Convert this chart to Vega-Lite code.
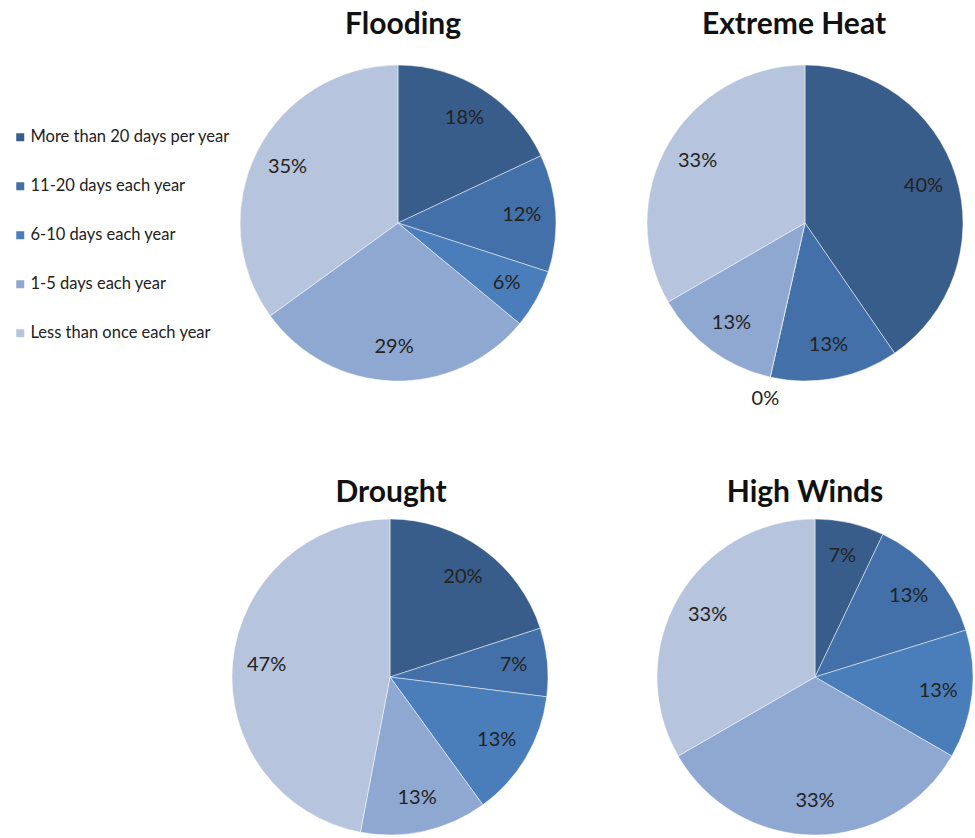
{
  "$schema": "https://vega.github.io/schema/vega-lite/v6.json",
  "padding": {"left": 12, "top": 10, "right": 0, "bottom": 0},
  "background": "white",
  "config": {
    "view": {"stroke": null},
    "font": "Lato",
    "title": {"font": "Lato", "fontSize": 30, "fontWeight": "bold", "color": "#111111", "anchor": "middle", "offset": 20},
    "legend": {
      "orient": "none",
      "legendX": -218,
      "legendY": 66,
      "title": null,
      "symbolType": "square",
      "symbolSize": 64,
      "symbolStrokeWidth": 0,
      "labelFont": "Lato",
      "labelFontSize": 16.5,
      "labelColor": "#222222",
      "labelOffset": 2,
      "rowPadding": 32,
      "labelLimit": 260
    }
  },
  "data": {
    "values": [
      {"hazard": "Flooding", "category": "More than 20 days per year", "rank": 1, "pct": 18},
      {"hazard": "Flooding", "category": "11-20 days each year", "rank": 2, "pct": 12},
      {"hazard": "Flooding", "category": "6-10 days each year", "rank": 3, "pct": 6},
      {"hazard": "Flooding", "category": "1-5 days each year", "rank": 4, "pct": 29},
      {"hazard": "Flooding", "category": "Less than once each year", "rank": 5, "pct": 35},
      {"hazard": "Extreme Heat", "category": "More than 20 days per year", "rank": 1, "pct": 40},
      {"hazard": "Extreme Heat", "category": "11-20 days each year", "rank": 2, "pct": 13},
      {"hazard": "Extreme Heat", "category": "6-10 days each year", "rank": 3, "pct": 0},
      {"hazard": "Extreme Heat", "category": "1-5 days each year", "rank": 4, "pct": 13},
      {"hazard": "Extreme Heat", "category": "Less than once each year", "rank": 5, "pct": 33},
      {"hazard": "Drought", "category": "More than 20 days per year", "rank": 1, "pct": 20},
      {"hazard": "Drought", "category": "11-20 days each year", "rank": 2, "pct": 7},
      {"hazard": "Drought", "category": "6-10 days each year", "rank": 3, "pct": 13},
      {"hazard": "Drought", "category": "1-5 days each year", "rank": 4, "pct": 13},
      {"hazard": "Drought", "category": "Less than once each year", "rank": 5, "pct": 47},
      {"hazard": "High Winds", "category": "More than 20 days per year", "rank": 1, "pct": 7},
      {"hazard": "High Winds", "category": "11-20 days each year", "rank": 2, "pct": 13},
      {"hazard": "High Winds", "category": "6-10 days each year", "rank": 3, "pct": 13},
      {"hazard": "High Winds", "category": "1-5 days each year", "rank": 4, "pct": 33},
      {"hazard": "High Winds", "category": "Less than once each year", "rank": 5, "pct": 33}
    ]
  },
  "transform": [
    {"calculate": "datum.pct + '%'", "as": "label"}
  ],
  "spacing": 68,
  "vconcat": [
    {
      "bounds": "flush",
      "spacing": 79,
      "hconcat": [
        {
          "title": {"text": "Flooding", "dx": 5, "offset": 23},
          "width": 336,
          "height": 320,
          "transform": [{"filter": "datum.hazard === 'Flooding'"}],
          "layer": [
            {
              "mark": {"type": "arc", "outerRadius": 158, "stroke": "#ffffff", "strokeWidth": 0.8, "strokeOpacity": 0.6},
              "encoding": {
                "theta": {"field": "pct", "type": "quantitative", "stack": true},
                "order": {"field": "rank", "type": "quantitative"},
                "color": {
                  "field": "category", "type": "nominal",
                  "scale": {
                    "domain": ["More than 20 days per year", "11-20 days each year", "6-10 days each year", "1-5 days each year", "Less than once each year"],
                    "range": ["#385d8a", "#4370a8", "#4a7ebb", "#8fa8d2", "#b6c4de"]
                  }
                }
              }
            },
            {
              "mark": {"type": "text", "radius": 124, "fontSize": 20, "font": "Lato", "color": "#222222"},
              "encoding": {
                "theta": {"field": "pct", "type": "quantitative", "stack": true},
                "order": {"field": "rank", "type": "quantitative"},
                "text": {"field": "label", "type": "nominal"}
              }
            }
          ]
        },
        {
          "title": {"text": "Extreme Heat", "dx": -11, "offset": 23},
          "width": 320,
          "height": 320,
          "transform": [{"filter": "datum.hazard === 'Extreme Heat'"}],
          "layer": [
            {
              "mark": {"type": "arc", "outerRadius": 158, "stroke": "#ffffff", "strokeWidth": 0.8, "strokeOpacity": 0.6},
              "encoding": {
                "theta": {"field": "pct", "type": "quantitative", "stack": true},
                "order": {"field": "rank", "type": "quantitative"},
                "color": {"field": "category", "type": "nominal"}
              }
            },
            {
              "mark": {"type": "text", "radius": 124, "fontSize": 20, "font": "Lato", "color": "#222222"},
              "encoding": {
                "theta": {"field": "pct", "type": "quantitative", "stack": true},
                "order": {"field": "rank", "type": "quantitative"},
                "text": {"condition": {"test": "datum.pct > 0", "field": "label"}, "value": ""}
              }
            },
            {
              "mark": {"type": "text", "radius": 180, "fontSize": 20, "font": "Lato", "color": "#222222"},
              "encoding": {
                "theta": {"field": "pct", "type": "quantitative", "stack": true},
                "order": {"field": "rank", "type": "quantitative"},
                "text": {"condition": {"test": "datum.pct == 0", "field": "label"}, "value": ""}
              }
            }
          ]
        }
      ]
    },
    {
      "bounds": "flush",
      "spacing": 105,
      "hconcat": [
        {
          "title": {"text": "Drought", "dx": 1, "offset": 9},
          "width": 320,
          "height": 320,
          "transform": [{"filter": "datum.hazard === 'Drought'"}],
          "layer": [
            {
              "mark": {"type": "arc", "outerRadius": 158, "stroke": "#ffffff", "strokeWidth": 0.8, "strokeOpacity": 0.6},
              "encoding": {
                "theta": {"field": "pct", "type": "quantitative", "stack": true},
                "order": {"field": "rank", "type": "quantitative"},
                "color": {"field": "category", "type": "nominal"}
              }
            },
            {
              "mark": {"type": "text", "radius": 124, "fontSize": 20, "font": "Lato", "color": "#222222"},
              "encoding": {
                "theta": {"field": "pct", "type": "quantitative", "stack": true},
                "order": {"field": "rank", "type": "quantitative"},
                "text": {"field": "label", "type": "nominal"}
              }
            }
          ]
        },
        {
          "title": {"text": "High Winds", "dx": -10, "offset": 9},
          "width": 320,
          "height": 320,
          "transform": [{"filter": "datum.hazard === 'High Winds'"}],
          "layer": [
            {
              "mark": {"type": "arc", "outerRadius": 158, "stroke": "#ffffff", "strokeWidth": 0.8, "strokeOpacity": 0.6},
              "encoding": {
                "theta": {"field": "pct", "type": "quantitative", "stack": true},
                "order": {"field": "rank", "type": "quantitative"},
                "color": {"field": "category", "type": "nominal"}
              }
            },
            {
              "mark": {"type": "text", "radius": 124, "fontSize": 20, "font": "Lato", "color": "#222222"},
              "encoding": {
                "theta": {"field": "pct", "type": "quantitative", "stack": true},
                "order": {"field": "rank", "type": "quantitative"},
                "text": {"field": "label", "type": "nominal"}
              }
            }
          ]
        }
      ]
    }
  ],
  "resolve": {"scale": {"theta": "independent"}}
}
